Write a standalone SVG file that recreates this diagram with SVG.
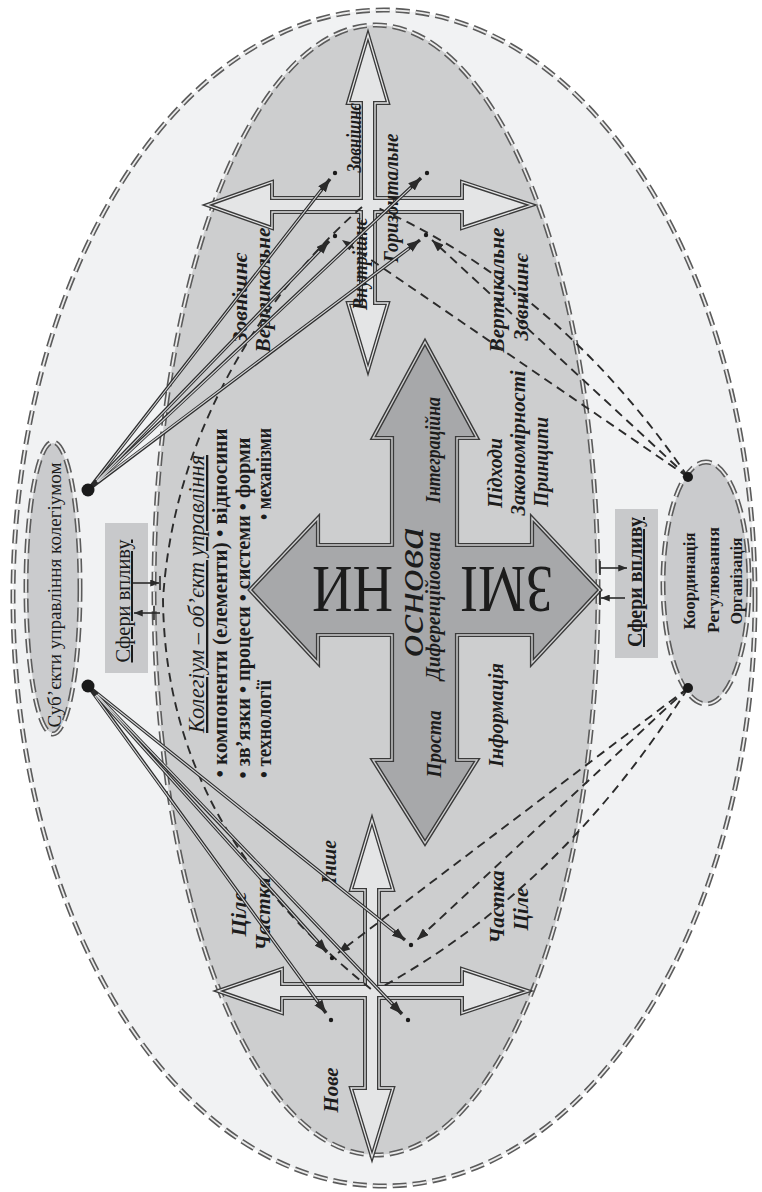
<svg xmlns="http://www.w3.org/2000/svg" width="762" height="1192" viewBox="0 0 762 1192">
<defs>
<style>
.d1{fill:none;stroke:#5b5b5b;stroke-width:5;stroke-dasharray:14 6}
.d2{fill:none;stroke:#ececec;stroke-width:1.8;stroke-dasharray:14 6}
.xo{fill:#e4e5e6;stroke:#3a3a3a;stroke-width:4;stroke-linejoin:miter}
.xi{fill:none;stroke:#e4e5e6;stroke-width:1.3;stroke-linejoin:miter}
.co{fill:#a7a8aa;stroke:#3a3a3a;stroke-width:4.2;stroke-linejoin:miter}
.ci{fill:none;stroke:#cfd0d1;stroke-width:1.4;stroke-linejoin:miter}
.t{font-family:"Liberation Serif","Times New Roman",serif;fill:#1c1c1c}
.lb{font-style:italic;font-weight:bold;font-size:20px}
.bl{font-weight:bold;font-size:21px}
.sl{stroke:#2b2b2b;stroke-width:3.4;fill:none}
.sw{stroke:#d3d4d6;stroke-width:1.2;fill:none}
.dl{stroke:#2b2b2b;stroke-width:1.9;fill:none;stroke-dasharray:9 6}
.dot{fill:#1a1a1a}
</style>
<marker id="ah" viewBox="0 0 12 9" refX="12" refY="4.5" markerWidth="13" markerHeight="10" markerUnits="userSpaceOnUse" orient="auto"><path d="M0,0 L12,4.5 L0,9 Z" fill="#2a2a2a"/></marker>
<marker id="ahd" viewBox="0 0 12 9" refX="12" refY="4.5" markerWidth="12" markerHeight="9" markerUnits="userSpaceOnUse" orient="auto"><path d="M0,0 L12,4.5 L0,9 Z" fill="#2a2a2a"/></marker>
<marker id="sa" viewBox="0 0 10 8" refX="10" refY="4" markerWidth="9" markerHeight="7" markerUnits="userSpaceOnUse" orient="auto"><path d="M0,0 L10,4 L0,8 Z" fill="#2a2a2a"/></marker>
</defs>
<rect width="762" height="1192" fill="#ffffff"/>

<g id="outer-field">
<ellipse cx="384" cy="598" rx="371" ry="588" fill="#f1f2f3"/>
<ellipse class="d1" cx="384" cy="598" rx="371" ry="588"/>
<ellipse class="d2" cx="384" cy="598" rx="371" ry="588"/>
</g>

<g id="kolegium">
<ellipse cx="376" cy="590" rx="222" ry="565" fill="#cdcecf"/>
<ellipse class="d1" cx="376" cy="590" rx="222" ry="565"/>
<ellipse class="d2" cx="376" cy="590" rx="222" ry="565"/>
<text class="t" font-style="italic" font-size="23" text-decoration="underline" text-anchor="middle" transform="translate(204,594) rotate(-90)" textLength="278" lengthAdjust="spacingAndGlyphs">Колегіум – об’єкт управління</text>
<text class="t bl" text-anchor="middle" transform="translate(227,603) rotate(-90)" textLength="349" lengthAdjust="spacingAndGlyphs">• компоненти (елементи) • відносини</text>
<text class="t bl" text-anchor="middle" transform="translate(250,608) rotate(-90)" textLength="341" lengthAdjust="spacingAndGlyphs">• зв’язки • процеси • системи • форми</text>
<text class="t bl" text-anchor="middle" transform="translate(271,729) rotate(-90)" textLength="98" lengthAdjust="spacingAndGlyphs">• технології</text>
<text class="t bl" text-anchor="middle" transform="translate(271,474) rotate(-90)" textLength="92" lengthAdjust="spacingAndGlyphs">• механізми</text>
<text class="t lb" text-anchor="middle" transform="translate(502,473) rotate(-90)" textLength="70" lengthAdjust="spacingAndGlyphs">Підходи</text>
<text class="t lb" text-anchor="middle" transform="translate(525,443) rotate(-90)" textLength="145" lengthAdjust="spacingAndGlyphs">Закономірності</text>
<text class="t lb" text-anchor="middle" transform="translate(548,462) rotate(-90)" textLength="90" lengthAdjust="spacingAndGlyphs">Принципи</text>
<text class="t lb" text-anchor="middle" transform="translate(503,715) rotate(-90)" textLength="104" lengthAdjust="spacingAndGlyphs">Інформація</text>
</g>

<g id="subjects">
<ellipse cx="53" cy="588" rx="26" ry="145" fill="#cacbcd"/>
<ellipse class="d1" cx="53" cy="588" rx="27" ry="146"/>
<ellipse class="d2" cx="53" cy="588" rx="27" ry="146"/>
<text class="t" font-size="19" text-anchor="middle" transform="translate(61,595) rotate(-90)" textLength="265" lengthAdjust="spacingAndGlyphs">Суб’єкти управління  колегіумом</text>
</g>

<g id="spheres-left">
<rect x="105" y="523" width="43" height="150" fill="#c8c9cb"/>
<text class="t" font-size="20" text-decoration="underline" text-anchor="middle" transform="translate(130,601) rotate(-90)" textLength="123" lengthAdjust="spacingAndGlyphs">Сфери впливу</text>
</g>

<g id="coordination">
<ellipse cx="706" cy="583" rx="42" ry="120" fill="#cacbcd"/>
<ellipse class="d1" cx="706" cy="583" rx="43" ry="121"/>
<ellipse class="d2" cx="706" cy="583" rx="43" ry="121"/>
<text class="t" font-weight="bold" font-size="17" text-anchor="middle" transform="translate(695,581) rotate(-90)" textLength="97" lengthAdjust="spacingAndGlyphs">Координація</text>
<text class="t" font-weight="bold" font-size="17" text-anchor="middle" transform="translate(719,580) rotate(-90)" textLength="106" lengthAdjust="spacingAndGlyphs">Регулювання</text>
<text class="t" font-weight="bold" font-size="17" text-anchor="middle" transform="translate(742,581) rotate(-90)" textLength="87" lengthAdjust="spacingAndGlyphs">Організація</text>
</g>

<g id="spheres-right">
<rect x="615" y="509" width="43" height="149" fill="#c8c9cb"/>
<text class="t" font-weight="bold" font-size="20" text-decoration="underline" text-anchor="middle" transform="translate(642,582) rotate(-90)" textLength="130" lengthAdjust="spacingAndGlyphs">Сфери впливу</text>
</g>

<g id="central-cross">
<path class="co" d="M425,342 L477,438 L457,438 L457,545 L532,545 L532,518 L600,590 L532,663 L532,635 L457,635 L457,760 L477,760 L425,843 L373,760 L392,760 L392,635 L318,635 L318,663 L250,590 L318,518 L318,545 L392,545 L392,438 L373,438 Z"/>
<path class="ci" d="M425,342 L477,438 L457,438 L457,545 L532,545 L532,518 L600,590 L532,663 L532,635 L457,635 L457,760 L477,760 L425,843 L373,760 L392,760 L392,635 L318,635 L318,663 L250,590 L318,518 L318,545 L392,545 L392,438 L373,438 Z"/>
<text class="t" font-size="68" text-anchor="middle" transform="translate(506.5,567) rotate(180)" textLength="93" lengthAdjust="spacingAndGlyphs">ЗМІ</text>
<text class="t" font-size="68" text-anchor="middle" transform="translate(352.5,567) rotate(180)" textLength="81" lengthAdjust="spacingAndGlyphs">НИ</text>
<text class="t" font-style="italic" font-size="38" text-anchor="middle" transform="translate(423,592) rotate(-90)" textLength="130" lengthAdjust="spacingAndGlyphs">основа</text>
<text class="t lb" text-anchor="middle" transform="translate(440,606) rotate(-90)" textLength="148" lengthAdjust="spacingAndGlyphs">Диференційована</text>
<text class="t lb" text-anchor="middle" transform="translate(440,450) rotate(-90)" textLength="106" lengthAdjust="spacingAndGlyphs">Інтеграційна</text>
<text class="t lb" font-size="22" text-anchor="middle" transform="translate(441,744) rotate(-90)" textLength="67" lengthAdjust="spacingAndGlyphs">Проста</text>
</g>

<g id="top-cross">
<path class="xo" d="M368,35 L388,103 L375,103 L375,198 L462,198 L462,182 L532,205 L462,228 L462,212 L375,212 L375,303 L388,303 L368,370 L348,303 L361,303 L361,212 L272,212 L272,228 L207,205 L272,182 L272,198 L361,198 L361,103 L348,103 Z"/>
<path class="xi" d="M368,35 L388,103 L375,103 L375,198 L462,198 L462,182 L532,205 L462,228 L462,212 L375,212 L375,303 L388,303 L368,370 L348,303 L361,303 L361,212 L272,212 L272,228 L207,205 L272,182 L272,198 L361,198 L361,103 L348,103 Z"/>
<text class="t lb" text-anchor="middle" transform="translate(361,138) rotate(-90)" textLength="69" lengthAdjust="spacingAndGlyphs">Зовнішнє</text>
<text class="t lb" text-anchor="middle" transform="translate(398,198) rotate(-90)" textLength="129" lengthAdjust="spacingAndGlyphs">Горизонтальне</text>
<text class="t lb" font-size="22" text-anchor="middle" transform="translate(367,264) rotate(-90)" textLength="92" lengthAdjust="spacingAndGlyphs">Внутрішнє</text>
<text class="t lb" text-anchor="middle" transform="translate(247,298) rotate(-90)" textLength="90" lengthAdjust="spacingAndGlyphs">Зовнішнє</text>
<text class="t lb" text-anchor="middle" transform="translate(270,290) rotate(-90)" textLength="125" lengthAdjust="spacingAndGlyphs">Вертикальне</text>
<text class="t lb" text-anchor="middle" transform="translate(504,290) rotate(-90)" textLength="125" lengthAdjust="spacingAndGlyphs">Вертикальне</text>
<text class="t lb" text-anchor="middle" transform="translate(528,297) rotate(-90)" textLength="87" lengthAdjust="spacingAndGlyphs">Зовнішнє</text>
</g>

<g id="bottom-cross">
<path class="xo" d="M372,820 L393,890 L379,890 L379,984 L462,984 L462,969 L528,991 L462,1013 L462,998 L379,998 L379,1088 L393,1088 L372,1157 L351,1088 L365,1088 L365,998 L282,998 L282,1013 L218,991 L282,969 L282,984 L365,984 L365,890 L351,890 Z"/>
<path class="xi" d="M372,820 L393,890 L379,890 L379,984 L462,984 L462,969 L528,991 L462,1013 L462,998 L379,998 L379,1088 L393,1088 L372,1157 L351,1088 L365,1088 L365,998 L282,998 L282,1013 L218,991 L282,969 L282,984 L365,984 L365,890 L351,890 Z"/>
<text class="t lb" text-anchor="middle" transform="translate(246,914) rotate(-90)" textLength="45" lengthAdjust="spacingAndGlyphs">Ціле</text>
<text class="t lb" text-anchor="middle" transform="translate(270,914) rotate(-90)" textLength="73" lengthAdjust="spacingAndGlyphs">Частка</text>
<text class="t lb" text-anchor="middle" transform="translate(336,862) rotate(-90)" textLength="44" lengthAdjust="spacingAndGlyphs">Інше</text>
<text class="t lb" text-anchor="middle" transform="translate(338,1090) rotate(-90)" textLength="45" lengthAdjust="spacingAndGlyphs">Нове</text>
<text class="t lb" text-anchor="middle" transform="translate(504,907) rotate(-90)" textLength="73" lengthAdjust="spacingAndGlyphs">Частка</text>
<text class="t lb" text-anchor="middle" transform="translate(528,909) rotate(-90)" textLength="43" lengthAdjust="spacingAndGlyphs">Ціле</text>
</g>

<g id="connectors">
<!-- spheres of influence arrows -->
<line x1="133" y1="583" x2="159" y2="583" stroke="#2a2a2a" stroke-width="1.6" marker-end="url(#sa)"/>
<line x1="160" y1="576" x2="160" y2="590" stroke="#2a2a2a" stroke-width="1.6"/>
<line x1="160" y1="613" x2="134" y2="613" stroke="#2a2a2a" stroke-width="1.6" marker-end="url(#sa)"/>
<line x1="154" y1="606" x2="154" y2="620" stroke="#2a2a2a" stroke-width="1.6"/>
<line x1="600" y1="568" x2="627" y2="568" stroke="#2a2a2a" stroke-width="1.6" marker-end="url(#sa)"/>
<line x1="600" y1="561" x2="600" y2="575" stroke="#2a2a2a" stroke-width="1.6"/>
<line x1="625" y1="598" x2="601" y2="598" stroke="#2a2a2a" stroke-width="1.6" marker-end="url(#sa)"/>
<line x1="600" y1="591" x2="600" y2="605" stroke="#2a2a2a" stroke-width="1.6"/>

<!-- dashed arcs -->
<path class="dl" d="M362,207 C300,260 175,400 163,600 C165,780 260,900 372,990"/>
<path class="dl" d="M688,477 Q560,290 378,208"/>
<path class="dl" d="M688,688 Q560,890 378,989"/>
<!-- dashed arrows from coordination -->
<line class="dl" x1="688" y1="477" x2="432" y2="240" marker-end="url(#ahd)"/>
<line class="dl" x1="688" y1="477" x2="342" y2="240" marker-end="url(#ahd)"/>
<line class="dl" x1="688" y1="688" x2="417" y2="940" marker-end="url(#ahd)"/>
<line class="dl" x1="688" y1="688" x2="338" y2="953" marker-end="url(#ahd)"/>

<!-- solid double arrows from subjects -->
<line class="sl" x1="88" y1="490" x2="330" y2="179" marker-end="url(#ah)"/>
<line class="sl" x1="88" y1="490" x2="421" y2="178" marker-end="url(#ah)"/>
<line class="sl" x1="88" y1="490" x2="329" y2="241" marker-end="url(#ah)"/>
<line class="sl" x1="88" y1="490" x2="420" y2="240" marker-end="url(#ah)"/>
<line class="sl" x1="88" y1="686" x2="327" y2="952" marker-end="url(#ah)"/>
<line class="sl" x1="88" y1="686" x2="405" y2="940" marker-end="url(#ah)"/>
<line class="sl" x1="88" y1="686" x2="326" y2="1013" marker-end="url(#ah)"/>
<line class="sl" x1="88" y1="686" x2="402" y2="1014" marker-end="url(#ah)"/>
<line class="sw" x1="96" y1="480" x2="321.4" y2="190"/>
<line class="sw" x1="97" y1="482" x2="410.8" y2="187.6"/>
<line class="sw" x1="97" y1="481" x2="319.3" y2="251"/>
<line class="sw" x1="98" y1="482" x2="408.8" y2="248.4"/>
<line class="sw" x1="96" y1="695" x2="317.6" y2="941.6"/>
<line class="sw" x1="98" y1="694" x2="394" y2="931.2"/>
<line class="sw" x1="95" y1="696" x2="317.8" y2="1001.7"/>
<line class="sw" x1="97" y1="695" x2="392.3" y2="1003.9"/>

<!-- endpoint dots -->
<circle class="dot" cx="88" cy="490" r="6.5"/>
<circle class="dot" cx="88" cy="686" r="6.5"/>
<circle class="dot" cx="688" cy="477" r="5"/>
<circle class="dot" cx="688" cy="688" r="5"/>
<circle class="dot" cx="335" cy="173" r="2.2"/>
<circle class="dot" cx="427" cy="173" r="2.2"/>
<circle class="dot" cx="335" cy="236" r="2.2"/>
<circle class="dot" cx="426" cy="235" r="2.2"/>
<circle class="dot" cx="332" cy="958" r="2.2"/>
<circle class="dot" cx="411" cy="945" r="2.2"/>
<circle class="dot" cx="331" cy="1020" r="2.2"/>
<circle class="dot" cx="408" cy="1020" r="2.2"/>
</g>
</svg>
